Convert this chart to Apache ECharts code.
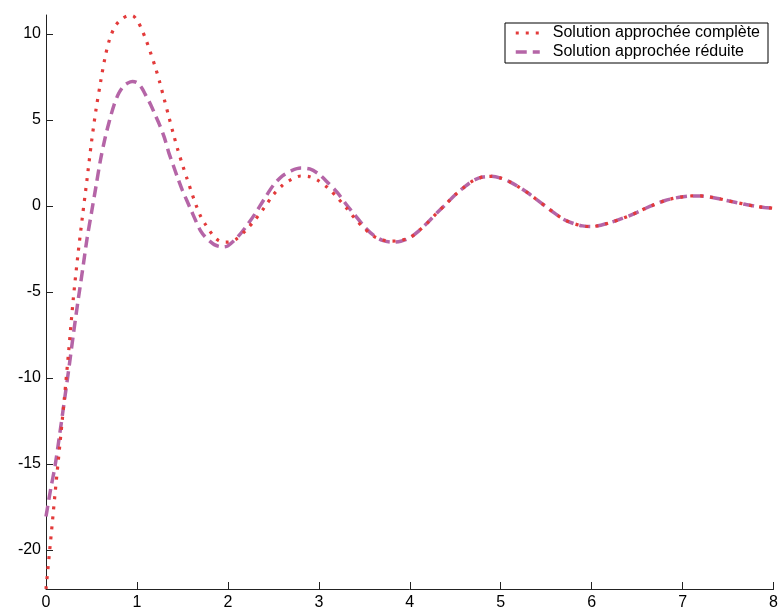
<!DOCTYPE html>
<html>
<head>
<meta charset="utf-8">
<script src="https://cdn.jsdelivr.net/npm/echarts@6/dist/echarts.min.js"></script>
<style>
html,body{margin:0;padding:0;background:#fff;}
#chart{width:781px;height:611px;}
</style>
</head>
<body>
<div id="chart"></div>
<script>
var xValues = [0,0.05,0.1,0.15,0.2,0.25,0.3,0.35,0.4,0.45,0.5,0.55,0.6,0.65,0.7,0.75,0.8,0.85,0.9,0.95,
  1.0,1.05,1.1,1.15,1.2,1.25,1.3,1.35,1.4,1.45,1.5,1.55,1.6,1.65,1.7,1.75,1.8,1.85,1.9,1.95,2.0,
  2.1,2.2,2.3,2.4,2.5,2.6,2.7,2.8,2.9,3.0,3.1,3.2,3.3,3.4,3.5,3.6,3.7,3.8,3.9,4.0,
  4.1,4.2,4.3,4.4,4.5,4.6,4.7,4.8,4.9,5.0,5.1,5.2,5.3,5.4,5.5,5.6,5.7,5.8,5.9,6.0,
  6.1,6.2,6.3,6.4,6.5,6.6,6.7,6.8,6.9,7.0,7.1,7.2,7.3,7.4,7.5,7.6,7.7,7.8,7.9,8.0];

var completeValues = [-22.27,-19.5,-16.7,-14.0,-11.3,-8.4,-5.4,-2.9,-0.65,1.5,3.7,5.6,7.2,8.65,9.7,10.35,10.72,10.93,11.05,11.06,
  10.8,10.3,9.65,8.9,8.1,7.2,6.2,5.2,4.2,3.25,2.4,1.6,0.8,0.05,-0.6,-1.05,-1.45,-1.8,-2.02,-2.1,-2.1,
  -1.9,-1.4,-0.8,-0.1,0.65,1.2,1.55,1.74,1.7,1.45,1.05,0.5,-0.1,-0.75,-1.3,-1.75,-1.98,-2.05,-2.0,-1.85,
  -1.45,-0.95,-0.4,0.12,0.65,1.1,1.48,1.68,1.72,1.62,1.4,1.1,0.75,0.35,-0.05,-0.45,-0.8,-1.02,-1.16,-1.2,
  -1.12,-0.97,-0.8,-0.6,-0.37,-0.12,0.1,0.3,0.44,0.53,0.58,0.58,0.52,0.42,0.3,0.19,0.08,-0.02,-0.09,-0.14];

var reducedValues = [-18.06,-16.5,-15.1,-13.3,-11.4,-9.5,-7.5,-5.6,-3.8,-1.95,-0.4,1.15,2.7,3.95,5.0,5.9,6.55,6.95,7.15,7.24,
  7.17,6.88,6.4,5.9,5.3,4.7,4.0,3.1,2.35,1.6,0.9,0.3,-0.3,-0.9,-1.45,-1.8,-2.05,-2.25,-2.35,-2.38,-2.32,
  -1.85,-1.2,-0.45,0.4,1.2,1.75,2.05,2.2,2.15,1.85,1.35,0.8,0.1,-0.55,-1.2,-1.7,-2.0,-2.1,-2.05,-1.85,
  -1.45,-0.95,-0.4,0.12,0.65,1.1,1.48,1.68,1.72,1.62,1.4,1.1,0.75,0.35,-0.05,-0.45,-0.8,-1.02,-1.16,-1.2,
  -1.12,-0.97,-0.8,-0.6,-0.37,-0.12,0.1,0.3,0.44,0.53,0.58,0.58,0.52,0.42,0.3,0.19,0.08,-0.02,-0.09,-0.14];

var seriesNames = ['Solution approchée complète', 'Solution approchée réduite'];
var xTicks = [0,1,2,3,4,5,6,7,8];
var yTicks = [-20,-15,-10,-5,0,5,10];

function pairs(xs, ys){ return xs.map(function(x,i){ return [x, ys[i]]; }); }

var FONT = '"Liberation Sans", Arial, Helvetica, sans-serif';
var chart = echarts.init(document.getElementById('chart'), null, {renderer:'canvas'});
chart.setOption({
  animation: false,
  backgroundColor: '#ffffff',
  grid: {left: 46, right: 5, top: 15, bottom: 22, containLabel: false},
  legend: {
    orient: 'vertical',
    right: 13, top: 23,
    data: [
      {name: seriesNames[0], lineStyle: {width: 3.2, color: '#e33a3a', type: [3, 7]}},
      {name: seriesNames[1], lineStyle: {width: 3.5, color: '#b565a7', type: [11, 6]}}
    ],
    backgroundColor: '#ffffff',
    borderColor: '#000000', borderWidth: 1,
    padding: [2, 8, 3, 9],
    itemWidth: 24, itemHeight: 14, itemGap: 3,
    itemStyle: {opacity: 0},
    textStyle: {fontFamily: FONT, fontSize: 16, color: '#000', padding: [0,0,0,8]}
  },
  xAxis: {
    type: 'value', min: 0, max: 8, interval: 1,
    splitLine: {show: false},
    axisLine: {show: true, onZero: false, lineStyle: {color: '#222', width: 1}},
    axisTick: {show: true, inside: true, length: 7, lineStyle: {color: '#222'}, customValues: xTicks},
    axisLabel: {fontFamily: FONT, fontSize: 16, color: '#000', margin: 6, customValues: xTicks}
  },
  yAxis: {
    type: 'value', min: -22.27, max: 11.1,
    splitLine: {show: false},
    axisLine: {show: true, onZero: false, lineStyle: {color: '#222', width: 1}},
    axisTick: {show: true, inside: true, length: 7, lineStyle: {color: '#222'}, customValues: yTicks},
    axisLabel: {fontFamily: FONT, fontSize: 16, color: '#000', margin: 5, customValues: yTicks}
  },
  series: [
    {
      name: seriesNames[0], type: 'line', data: pairs(xValues, completeValues),
      showSymbol: false, symbol: 'none', smooth: 0.3, z: 3,
      itemStyle: {color: '#e33a3a'},
      lineStyle: {color: '#e33a3a', width: 3.2, type: [3, 7], cap: 'butt'}
    },
    {
      name: seriesNames[1], type: 'line', data: pairs(xValues, reducedValues),
      showSymbol: false, symbol: 'none', smooth: 0.3, z: 2,
      itemStyle: {color: '#b565a7'},
      lineStyle: {color: '#b565a7', width: 3.5, type: [11, 6], cap: 'butt'}
    }
  ]
});
</script>
</body>
</html>
